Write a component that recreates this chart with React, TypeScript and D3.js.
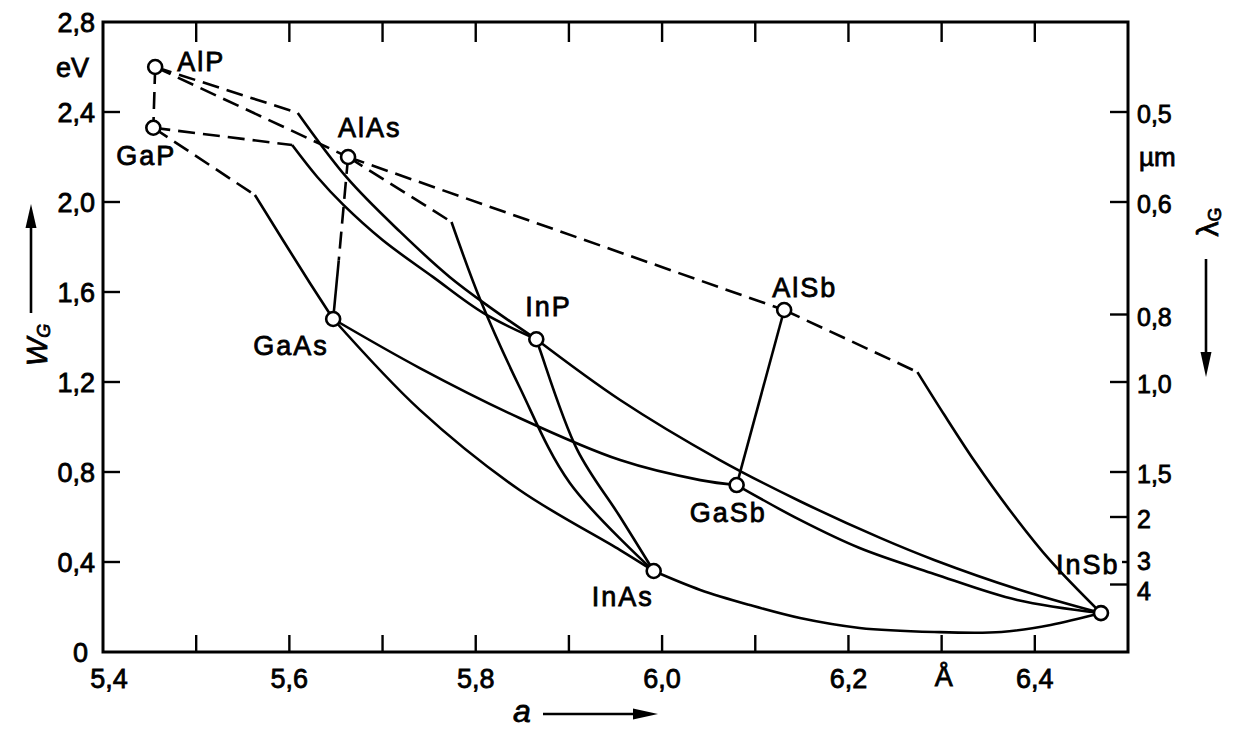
import React from "react";
import * as d3 from "d3";

// ---------- data ----------
const xMinorTicks = [5.5, 5.6, 5.7, 5.8, 5.9, 6.0, 6.1, 6.2, 6.3, 6.4];
const xTickLabels = [5.4, 5.6, 5.8, 6.0, 6.2, 6.4];
const xUnitAt = 6.3; // "Å"
const yTickValues = [0.4, 0.8, 1.2, 1.6, 2.0, 2.4];
const yLabelValues = [0, 0.4, 0.8, 1.2, 1.6, 2.0, 2.4, 2.8];
const lambdaTicks = [0.5, 0.6, 0.8, 1.0, 1.5, 2, 3, 4];
const lambdaLabels = ["0,5", "0,6", "0,8", "1,0", "1,5", "2", "3", "4"];
const lambdaConst = 1.2; // W = 1.2 / λ as drawn

type P = [number, number];

const AlP: P = [5.456, 2.6];
const GaP: P = [5.454, 2.33];
const AlAs: P = [5.663, 2.2];
const GaAs: P = [5.647, 1.48];
const InP: P = [5.865, 1.39];
const AlSb: P = [6.131, 1.52];
const GaSb: P = [6.08, 0.742];
const InAs: P = [5.991, 0.36];
const InSb: P = [6.471, 0.173];

const compounds: { name: string; p: P }[] = [
  { name: "AlP", p: AlP },
  { name: "GaP", p: GaP },
  { name: "AlAs", p: AlAs },
  { name: "GaAs", p: GaAs },
  { name: "InP", p: InP },
  { name: "AlSb", p: AlSb },
  { name: "GaSb", p: GaSb },
  { name: "InAs", p: InAs },
  { name: "InSb", p: InSb },
];

// kinks (indirect -> direct crossover)
const kAlPInP: P = [5.609, 2.396];
const kGaPInP: P = [5.603, 2.253];
const kGaPGaAs: P = [5.563, 2.031];
const kAlAsInAs: P = [5.774, 1.911];
const kAlSbInSb: P = [6.274, 1.244];
const kAlAsGaAs: P = [5.653, 1.74];

// dashed straight segments
const dashedLines: P[][] = [
  [AlP, GaP],
  [AlP, AlAs],
  [AlP, kAlPInP],
  [GaP, kGaPInP],
  [GaP, kGaPGaAs],
  [AlAs, kAlAsInAs],
  [AlAs, AlSb],
  [AlSb, kAlSbInSb],
  [AlAs, kAlAsGaAs],
];

// solid straight segments
const solidLines: P[][] = [
  [kAlAsGaAs, GaAs],
  [AlSb, GaSb],
  [kGaPGaAs, [5.593, 1.831], [5.622, 1.64], GaAs],
];

// solid curves
const curveAlPInP: P[] = [kAlPInP, [5.662, 2.107], [5.719, 1.867], [5.772, 1.667], [5.815, 1.533], InP];
const curveGaPInP: P[] = [kGaPInP, [5.63, 2.111], [5.658, 1.987], [5.7, 1.831], [5.754, 1.667], [5.808, 1.507], InP];
const curveAlAsInAs: P[] = [kAlAsInAs, [5.805, 1.564], [5.847, 1.178], [5.901, 0.751], InAs];
const curveInPInAs: P[] = [InP, [5.869, 1.342], [5.909, 0.898], [5.955, 0.6], InAs];
const curveGaAsGaSb: P[] = [GaAs, [5.74, 1.262], [5.847, 1.04], [5.955, 0.853], [6.041, 0.764], GaSb];
const curveGaAsInAs: P[] = [GaAs, [5.74, 1.076], [5.847, 0.72], [5.955, 0.453], InAs];
const curveInAsInSb: P[] = [InAs, [6.041, 0.276], [6.094, 0.209], [6.148, 0.151], [6.212, 0.107], [6.292, 0.089], [6.364, 0.089], [6.417, 0.12], InSb];
const curveGaSbInSb: P[] = [GaSb, [6.148, 0.587], [6.212, 0.462], [6.292, 0.347], [6.381, 0.231], InSb];
const curveInPInSb: P[] = [InP, [5.955, 1.12], [6.062, 0.853], [6.148, 0.67], [6.234, 0.507], [6.292, 0.409], [6.381, 0.28], InSb];
const curveAlSbInSb: P[] = [kAlSbInSb, [6.303, 1.053], [6.336, 0.844], [6.373, 0.631], [6.416, 0.409], InSb];

const solidCurves: P[][] = [
  curveAlPInP, curveGaPInP, curveAlAsInAs, curveInPInAs, curveGaAsGaSb,
  curveGaAsInAs, curveInAsInSb, curveGaSbInSb, curveInPInSb, curveAlSbInSb,
];

// label placement relative to circle (px)
const labelOffset: Record<string, [number, number]> = {
  AlP: [22, -5],
  GaP: [-37, 28],
  AlAs: [-10, -29],
  GaAs: [-80, 27],
  InP: [-11, -32],
  AlSb: [-12, -22],
  GaSb: [-47, 28],
  InAs: [-62, 26],
  InSb: [-45, -48],
};

// ---------- chart ----------
const W = 1234;
const H = 729;
const left = 103, right = 1128, top = 22, bottom = 652;

const fmt = (v: number) => (v === 0 ? "0" : v.toFixed(1).replace(".", ","));

const font = "'Liberation Sans', Arial, sans-serif";

export default function App() {
  const x = d3.scaleLinear().domain([5.4, 6.5]).range([left, right]);
  const y = d3.scaleLinear().domain([0, 2.8]).range([bottom, top]);
  const straight = d3.line<P>().x((d) => x(d[0])).y((d) => y(d[1]));
  const smooth = d3
    .line<P>()
    .x((d) => x(d[0]))
    .y((d) => y(d[1]))
    .curve(d3.curveCatmullRom.alpha(0.5));

  const lw = 2.6;
  const txt = { fontFamily: font, fill: "#000", stroke: "#000", strokeWidth: 0.8 } as const;

  return (
    <svg
      width={W}
      height={H}
      style={{ position: "absolute", left: 0, top: 0, background: "#fff" }}
    >
      <rect x={0} y={0} width={W} height={H} fill="#fff" />
      {/* frame */}
      <rect x={left} y={top} width={right - left} height={bottom - top} fill="none" stroke="#000" strokeWidth={3} />

      {/* x ticks */}
      {xMinorTicks.map((v) => (
        <g key={"xt" + v}>
          <line x1={x(v)} x2={x(v)} y1={bottom} y2={bottom - 17} stroke="#000" strokeWidth={2.4} />
          <line x1={x(v)} x2={x(v)} y1={top} y2={top + 20} stroke="#000" strokeWidth={2.4} />
        </g>
      ))}
      {xTickLabels.map((v) => (
        <text key={"xl" + v} x={x(v) + (v === 5.4 ? 6 : 0)} y={679} textAnchor="middle" dominantBaseline="central" fontSize={27} {...txt}>
          {fmt(v)}
        </text>
      ))}
      <text x={x(xUnitAt) + 2} y={677} textAnchor="middle" dominantBaseline="central" fontSize={27} {...txt}>
        Å
      </text>

      {/* left ticks */}
      {yTickValues.map((v) => (
        <line key={"yt" + v} x1={left} x2={left + 17} y1={y(v)} y2={y(v)} stroke="#000" strokeWidth={2.4} />
      ))}
      {yLabelValues.map((v) => (
        <text key={"yl" + v} x={v === 0 ? 88 : 95} y={y(v) + 1} textAnchor="end" dominantBaseline="central" fontSize={27} {...txt}>
          {fmt(v)}
        </text>
      ))}
      <text x={89} y={68} textAnchor="end" dominantBaseline="central" fontSize={27} {...txt}>
        eV
      </text>

      {/* right ticks (wavelength) */}
      {lambdaTicks.map((l, i) => {
        const ty = y(lambdaConst / l);
        const ly = ty + (l === 4 ? 6 : l === 3 ? -1 : 2);
        return (
          <g key={"rt" + l}>
            <line
              x1={right}
              x2={right - (l === 3 ? 6 : 18)}
              y1={ty}
              y2={ty}
              stroke="#000"
              strokeWidth={2.4}
            />
            <text x={right + 9} y={ly} dominantBaseline="central" fontSize={25} {...txt}>
              {lambdaLabels[i]}
            </text>
          </g>
        );
      })}
      <text x={right + 11} y={157} dominantBaseline="central" fontSize={26} {...txt}>
        µm
      </text>

      {/* axis titles */}
      <g transform="translate(36,345) rotate(-90)">
        <text textAnchor="middle" dominantBaseline="central" fontSize={30} {...txt} fontStyle="italic">
          W<tspan fontSize={18} dy={8}>G</tspan>
        </text>
      </g>
      <line x1={31} x2={31} y1={313} y2={222} stroke="#000" strokeWidth={2.6} />
      <path d="M31,204 L25.5,228 L36.5,228 Z" fill="#000" />

      <g transform="translate(1207,222) rotate(-90)">
        <text textAnchor="middle" dominantBaseline="central" fontSize={30} {...txt}>
          λ<tspan fontSize={18} dy={8}>G</tspan>
        </text>
      </g>
      <line x1={1206} x2={1206} y1={259} y2={356} stroke="#000" strokeWidth={2.6} />
      <path d="M1206,377 L1200.5,352 L1211.5,352 Z" fill="#000" />

      <text x={522} y={711} textAnchor="middle" dominantBaseline="central" fontSize={32} fontStyle="italic" {...txt}>
        a
      </text>
      <line x1={543} x2={636} y1={714} y2={714} stroke="#000" strokeWidth={2.6} />
      <path d="M658,714 L633,708.5 L633,719.5 Z" fill="#000" />

      {/* lines */}
      {solidCurves.map((c, i) => (
        <path key={"sc" + i} d={smooth(c) || ""} fill="none" stroke="#000" strokeWidth={lw} strokeLinejoin="round" />
      ))}
      {solidLines.map((c, i) => (
        <path key={"sl" + i} d={straight(c) || ""} fill="none" stroke="#000" strokeWidth={lw} strokeLinejoin="round" />
      ))}
      {dashedLines.map((c, i) => (
        <path key={"dl" + i} d={straight(c) || ""} fill="none" stroke="#000" strokeWidth={lw} strokeDasharray="17,8" />
      ))}

      {/* compound points and labels */}
      {compounds.map((c) => (
        <g key={c.name}>
          <circle cx={x(c.p[0])} cy={y(c.p[1])} r={7} fill="#fff" stroke="#000" strokeWidth={2.6} />
          <text
            x={x(c.p[0]) + labelOffset[c.name][0]}
            y={y(c.p[1]) + labelOffset[c.name][1]}
            dominantBaseline="central"
            fontSize={27}
            letterSpacing={2}
            {...txt}
          >
            {c.name}
          </text>
        </g>
      ))}
    </svg>
  );
}
